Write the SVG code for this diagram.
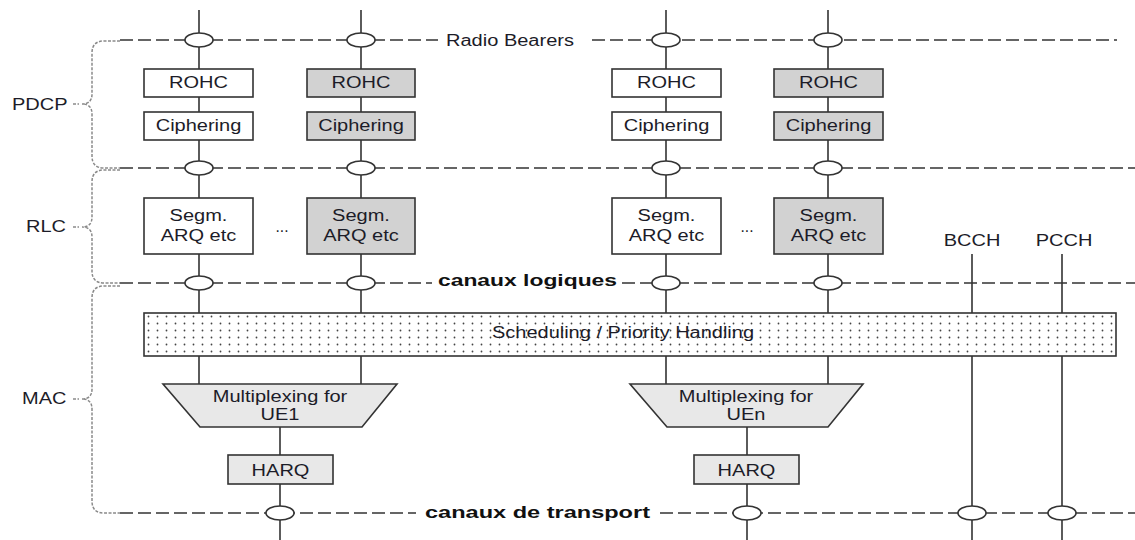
<svg xmlns="http://www.w3.org/2000/svg" width="1135" height="540" viewBox="0 0 1135 540">
<style>
.ln{stroke:#333;stroke-width:1.6;fill:none}
.dl{stroke:#333;stroke-width:1.6;fill:none;stroke-dasharray:13 5}
.br{stroke:#8a8a8a;stroke-width:1.5;fill:none;stroke-dasharray:3 1.5}
.bw{fill:#fff;stroke:#333;stroke-width:1.6}
.bg{fill:#d2d2d2;stroke:#333;stroke-width:1.6}
.bl{fill:#e8e8e8;stroke:#333;stroke-width:1.6}
.jn{fill:#fff;stroke:#333;stroke-width:1.6}
.t{font-family:"Liberation Sans",Arial,sans-serif;font-size:16px;fill:#1c1c28;text-anchor:middle}
.tl{font-family:"Liberation Sans",Arial,sans-serif;font-size:16px;fill:#1c1c28}
.tb{font-family:"Liberation Sans",Arial,sans-serif;font-size:17px;font-weight:bold;fill:#111}
</style>
<defs>
<pattern id="dots" width="9" height="7" patternUnits="userSpaceOnUse" x="144" y="313">
<rect width="9" height="7" fill="#fff"/>
<circle cx="4.5" cy="3.5" r="0.9" fill="#444"/>
</pattern>
</defs>

<g id="braces">
<path class="br" d="M120,41 L104,41 Q92,41 92,53 L92,94 Q92,104 82,104 Q92,104 92,114 L92,156 Q92,168 104,168 L120,168"/>
<path class="br" d="M73,104 L79,104"/>
<path class="br" d="M120,170 L104,170 Q92,170 92,182 L92,217 Q92,227 82,227 Q92,227 92,237 L92,271 Q92,283 104,283 L120,283"/>
<path class="br" d="M73,227 L79,227"/>
<path class="br" d="M120,286 L104,286 Q92,286 92,298 L92,389 Q92,399 82,399 Q92,399 92,409 L92,501 Q92,513 104,513 L120,513"/>
<path class="br" d="M73,399 L79,399"/>
<text class="tl" x="12" y="110" textLength="55.6" lengthAdjust="spacingAndGlyphs">PDCP</text>
<text class="tl" x="26" y="232" textLength="40" lengthAdjust="spacingAndGlyphs">RLC</text>
<text class="tl" x="22" y="404" textLength="44.4" lengthAdjust="spacingAndGlyphs">MAC</text>
</g>

<g id="connectors">
<line class="dl" x1="120" y1="40" x2="438" y2="40"/>
<line class="dl" x1="592" y1="40" x2="1117" y2="40"/>
<line class="dl" x1="120" y1="168" x2="1135" y2="168"/>
<line class="dl" x1="120" y1="283" x2="432" y2="283"/>
<line class="dl" x1="622" y1="283" x2="1135" y2="283"/>
<line class="dl" x1="120" y1="513" x2="416" y2="513"/>
<line class="dl" x1="660" y1="513" x2="1135" y2="513"/>
<line class="ln" x1="199" y1="10" x2="199" y2="384"/>
<line class="ln" x1="361" y1="10" x2="361" y2="384"/>
<line class="ln" x1="666" y1="10" x2="666" y2="384"/>
<line class="ln" x1="828" y1="10" x2="828" y2="384"/>
<line class="ln" x1="280" y1="427" x2="280" y2="540"/>
<line class="ln" x1="747" y1="427" x2="747" y2="540"/>
<line class="ln" x1="972" y1="254" x2="972" y2="540"/>
<line class="ln" x1="1062" y1="254" x2="1062" y2="540"/>
</g>

<g id="labels">
<text class="tl" x="446" y="46" textLength="128" lengthAdjust="spacingAndGlyphs">Radio Bearers</text>
<text class="tb" x="438" y="286" textLength="179" lengthAdjust="spacingAndGlyphs">canaux logiques</text>
<text class="tb" x="425" y="518" textLength="225" lengthAdjust="spacingAndGlyphs">canaux de transport</text>
<text class="t" x="972" y="246" textLength="56.7" lengthAdjust="spacingAndGlyphs">BCCH</text>
<text class="t" x="1064" y="246" textLength="56.7" lengthAdjust="spacingAndGlyphs">PCCH</text>
<text class="t" x="282" y="232" font-size="12" textLength="13" lengthAdjust="spacingAndGlyphs">...</text>
<text class="t" x="747" y="232" font-size="12" textLength="13" lengthAdjust="spacingAndGlyphs">...</text>
</g>

<g id="rohc1"><rect class="bw" x="144" y="69" width="109" height="28"/><text class="t" x="198.5" y="87.5" textLength="58.9" lengthAdjust="spacingAndGlyphs">ROHC</text></g>
<g id="rohc2"><rect class="bg" x="307" y="69" width="108" height="28"/><text class="t" x="361" y="87.5" textLength="58.9" lengthAdjust="spacingAndGlyphs">ROHC</text></g>
<g id="rohc3"><rect class="bw" x="612" y="69" width="109" height="28"/><text class="t" x="666.5" y="87.5" textLength="58.9" lengthAdjust="spacingAndGlyphs">ROHC</text></g>
<g id="rohc4"><rect class="bg" x="774" y="69" width="109" height="28"/><text class="t" x="828.5" y="87.5" textLength="58.9" lengthAdjust="spacingAndGlyphs">ROHC</text></g>

<g id="ciph1"><rect class="bw" x="144" y="112" width="109" height="28"/><text class="t" x="198.5" y="131" textLength="85.6" lengthAdjust="spacingAndGlyphs">Ciphering</text></g>
<g id="ciph2"><rect class="bg" x="307" y="112" width="108" height="28"/><text class="t" x="361" y="131" textLength="85.6" lengthAdjust="spacingAndGlyphs">Ciphering</text></g>
<g id="ciph3"><rect class="bw" x="612" y="112" width="109" height="28"/><text class="t" x="666.5" y="131" textLength="85.6" lengthAdjust="spacingAndGlyphs">Ciphering</text></g>
<g id="ciph4"><rect class="bg" x="774" y="112" width="109" height="28"/><text class="t" x="828.5" y="131" textLength="85.6" lengthAdjust="spacingAndGlyphs">Ciphering</text></g>

<g id="rlc1"><rect class="bw" x="144" y="198" width="109" height="56"/><text class="t" x="198.5" y="221" textLength="57.8" lengthAdjust="spacingAndGlyphs">Segm.</text><text class="t" x="198.5" y="241" textLength="75.6" lengthAdjust="spacingAndGlyphs">ARQ etc</text></g>
<g id="rlc2"><rect class="bg" x="307" y="198" width="108" height="56"/><text class="t" x="361" y="221" textLength="57.8" lengthAdjust="spacingAndGlyphs">Segm.</text><text class="t" x="361" y="241" textLength="75.6" lengthAdjust="spacingAndGlyphs">ARQ etc</text></g>
<g id="rlc3"><rect class="bw" x="612" y="198" width="109" height="56"/><text class="t" x="666.5" y="221" textLength="57.8" lengthAdjust="spacingAndGlyphs">Segm.</text><text class="t" x="666.5" y="241" textLength="75.6" lengthAdjust="spacingAndGlyphs">ARQ etc</text></g>
<g id="rlc4"><rect class="bg" x="774" y="198" width="109" height="56"/><text class="t" x="828.5" y="221" textLength="57.8" lengthAdjust="spacingAndGlyphs">Segm.</text><text class="t" x="828.5" y="241" textLength="75.6" lengthAdjust="spacingAndGlyphs">ARQ etc</text></g>

<g id="scheduling"><rect x="144" y="313" width="972" height="43" fill="url(#dots)" stroke="#333" stroke-width="1.6"/><text class="t" x="623" y="338" textLength="262" lengthAdjust="spacingAndGlyphs">Scheduling / Priority Handling</text></g>

<g id="mux1"><polygon class="bl" points="163,384 397,384 362,427 200,427"/><text class="t" x="280" y="402" textLength="134.5" lengthAdjust="spacingAndGlyphs">Multiplexing for</text><text class="t" x="280" y="420" textLength="38.9" lengthAdjust="spacingAndGlyphs">UE1</text></g>
<g id="muxn"><polygon class="bl" points="630,384 863,384 828,427 667,427"/><text class="t" x="746" y="402" textLength="134.5" lengthAdjust="spacingAndGlyphs">Multiplexing for</text><text class="t" x="746" y="420" textLength="38.9" lengthAdjust="spacingAndGlyphs">UEn</text></g>

<g id="harq1"><rect class="bl" x="228" y="455" width="105" height="29"/><text class="t" x="280.5" y="476" textLength="57.8" lengthAdjust="spacingAndGlyphs">HARQ</text></g>
<g id="harqn"><rect class="bl" x="694" y="455" width="105" height="29"/><text class="t" x="746.5" y="476" textLength="57.8" lengthAdjust="spacingAndGlyphs">HARQ</text></g>

<g id="junctions">
<ellipse class="jn" cx="199" cy="40" rx="14" ry="7"/>
<ellipse class="jn" cx="361" cy="40" rx="14" ry="7"/>
<ellipse class="jn" cx="666" cy="40" rx="14" ry="7"/>
<ellipse class="jn" cx="828" cy="40" rx="14" ry="7"/>
<ellipse class="jn" cx="199" cy="168" rx="14" ry="7"/>
<ellipse class="jn" cx="361" cy="168" rx="14" ry="7"/>
<ellipse class="jn" cx="666" cy="168" rx="14" ry="7"/>
<ellipse class="jn" cx="828" cy="168" rx="14" ry="7"/>
<ellipse class="jn" cx="199" cy="283" rx="14" ry="7"/>
<ellipse class="jn" cx="361" cy="283" rx="14" ry="7"/>
<ellipse class="jn" cx="666" cy="283" rx="14" ry="7"/>
<ellipse class="jn" cx="828" cy="283" rx="14" ry="7"/>
<ellipse class="jn" cx="280" cy="513" rx="14" ry="7"/>
<ellipse class="jn" cx="747" cy="513" rx="14" ry="7"/>
<ellipse class="jn" cx="972" cy="513" rx="14" ry="7"/>
<ellipse class="jn" cx="1062" cy="513" rx="14" ry="7"/>
</g>
</svg>
